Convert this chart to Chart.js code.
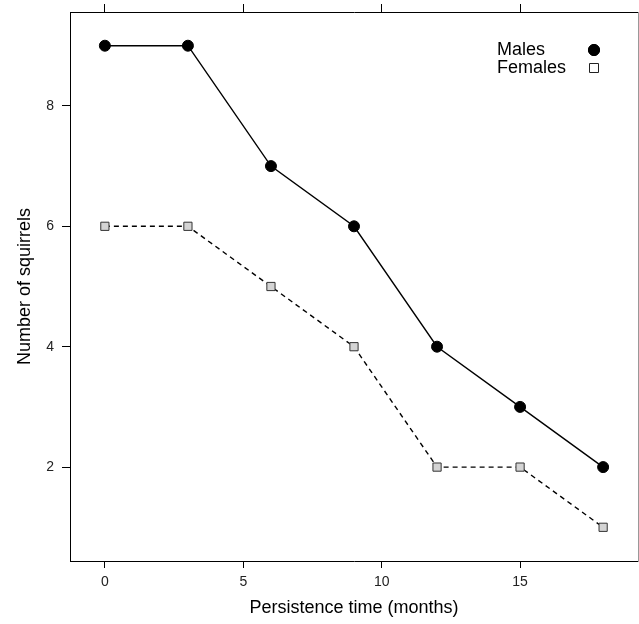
<!DOCTYPE html>
<html>
<head>
<meta charset="utf-8">
<script src="https://cdn.jsdelivr.net/npm/chart.js@4/dist/chart.umd.min.js"></script>
<style>
  html, body { margin: 0; padding: 0; background: #fff; }
  #wrap { width: 639px; height: 624px; }
</style>
</head>
<body>
<div id="wrap"><canvas id="squirrelChart" width="639" height="624"></canvas></div>
<script>
// persistence time (months)
const months = [0, 3, 6, 9, 12, 15, 18]
const males = [9, 9, 7, 6, 4, 3, 2]
const females = [6, 6, 5, 4, 2, 2, 1]

const xTicks = [0, 5, 10, 15]
const yTicks = [2, 4, 6, 8]

// lattice style: 7% padding each side of data range
const xMin = -1.26, xMax = 19.26
const yMin = 0.44, yMax = 9.56

const fontFam = "'Liberation Sans', Arial, Helvetica, sans-serif"

function toPoints(ys) {
  return months.map((m, i) => ({ x: m, y: ys[i] }))
}

function setTicks(list) {
  return (scale) => { scale.ticks = list.map(v => ({ value: v })) }
}

// fixed axis size, no extra margins for edge labels
function fixSize(w, h) {
  return (s) => {
    if (w != null) s.width = w
    if (h != null) s.height = h
    s.paddingTop = 0
    s.paddingBottom = 0
    s.paddingLeft = 0
    s.paddingRight = 0
  }
}

// legend drawn top right, text then symbol (like lattice key)
const keyPlugin = {
  id: 'key',
  afterDraw(chart) {
    const ctx = chart.ctx
    const area = chart.chartArea
    const textX = area.right - 141
    const symX = area.right - 44
    ctx.save()
    ctx.font = '18px ' + fontFam
    ctx.fillStyle = '#000'
    ctx.textAlign = 'left'
    ctx.textBaseline = 'middle'
    ctx.fillText('Males', textX, area.top + 38)
    ctx.fillText('Females', textX, area.top + 56)
    Chart.helpers.drawPoint(ctx, { pointStyle: 'circle', radius: 5.5, borderWidth: 1 }, symX, area.top + 38)
    ctx.fillStyle = '#000'
    ctx.fill()
    ctx.strokeStyle = '#000'
    ctx.stroke()
    ctx.beginPath()
    ctx.fillStyle = '#fff'
    ctx.strokeStyle = '#222'
    ctx.lineWidth = 1
    ctx.rect(symX - 4.5, area.top + 51.5, 9, 9)
    ctx.fill()
    ctx.stroke()
    ctx.restore()
  }
}

const ctx = document.getElementById('squirrelChart').getContext('2d')
const chartSquirrel = new Chart(ctx, {
  type: 'line',
  data: {
    datasets: [
      {
        label: 'Males',
        data: toPoints(males),
        borderColor: '#000',
        borderWidth: 1.4,
        backgroundColor: '#000',
        pointStyle: 'circle',
        pointRadius: 5.5,
        pointBorderWidth: 1,
        pointBorderColor: '#000',
        pointBackgroundColor: '#000',
        tension: 0
      },
      {
        label: 'Females',
        data: toPoints(females),
        borderColor: '#000',
        borderWidth: 1.4,
        borderDash: [5, 4],
        pointStyle: 'rect',
        pointRadius: 5.8,
        pointBorderWidth: 1,
        pointBorderColor: '#333',
        pointBackgroundColor: '#d4d4d4',
        tension: 0
      }
    ]
  },
  options: {
    responsive: false,
    animation: false,
    layout: { autoPadding: false, padding: 0 },
    plugins: {
      legend: { display: false },
      tooltip: { enabled: false }
    },
    scales: {
      x: {
        type: 'linear',
        position: 'bottom',
        min: xMin,
        max: xMax,
        afterBuildTicks: setTicks(xTicks),
        afterFit: fixSize(null, 63),
        grid: { drawOnChartArea: false, drawTicks: true, tickLength: 7, color: '#000', lineWidth: 1 },
        border: { display: true, color: '#000', width: 1 },
        ticks: { color: '#222', font: { size: 14, family: fontFam }, padding: 6, maxRotation: 0 },
        title: { display: true, text: 'Persistence time (months)', color: '#000', font: { size: 18, family: fontFam }, padding: { top: 0, bottom: 5 } }
      },
      x2: {
        type: 'linear',
        position: 'top',
        min: xMin,
        max: xMax,
        afterBuildTicks: setTicks(xTicks),
        afterFit: fixSize(null, 12),
        grid: { drawOnChartArea: false, drawTicks: true, tickLength: 8, color: '#000', lineWidth: 1 },
        border: { display: true, color: '#000', width: 1 },
        ticks: { display: false }
      },
      y: {
        type: 'linear',
        position: 'left',
        min: yMin,
        max: yMax,
        afterBuildTicks: setTicks(yTicks),
        afterFit: fixSize(70, null),
        grid: { drawOnChartArea: false, drawTicks: true, tickLength: 8, color: '#000', lineWidth: 1 },
        border: { display: true, color: '#000', width: 1 },
        ticks: { color: '#222', font: { size: 14, family: fontFam }, padding: 8 },
        title: { display: true, text: 'Number of squirrels', color: '#000', font: { size: 18, family: fontFam }, padding: { top: 14, bottom: 0 } }
      },
      y2: {
        type: 'linear',
        position: 'right',
        min: yMin,
        max: yMax,
        afterBuildTicks: setTicks(yTicks),
        afterFit: fixSize(1, null),
        grid: { drawOnChartArea: false, drawTicks: true, tickLength: 8, color: '#000', lineWidth: 1 },
        border: { display: true, color: '#999', width: 1 },
        ticks: { display: false }
      }
    }
  },
  plugins: [keyPlugin]
})
</script>
</body>
</html>
